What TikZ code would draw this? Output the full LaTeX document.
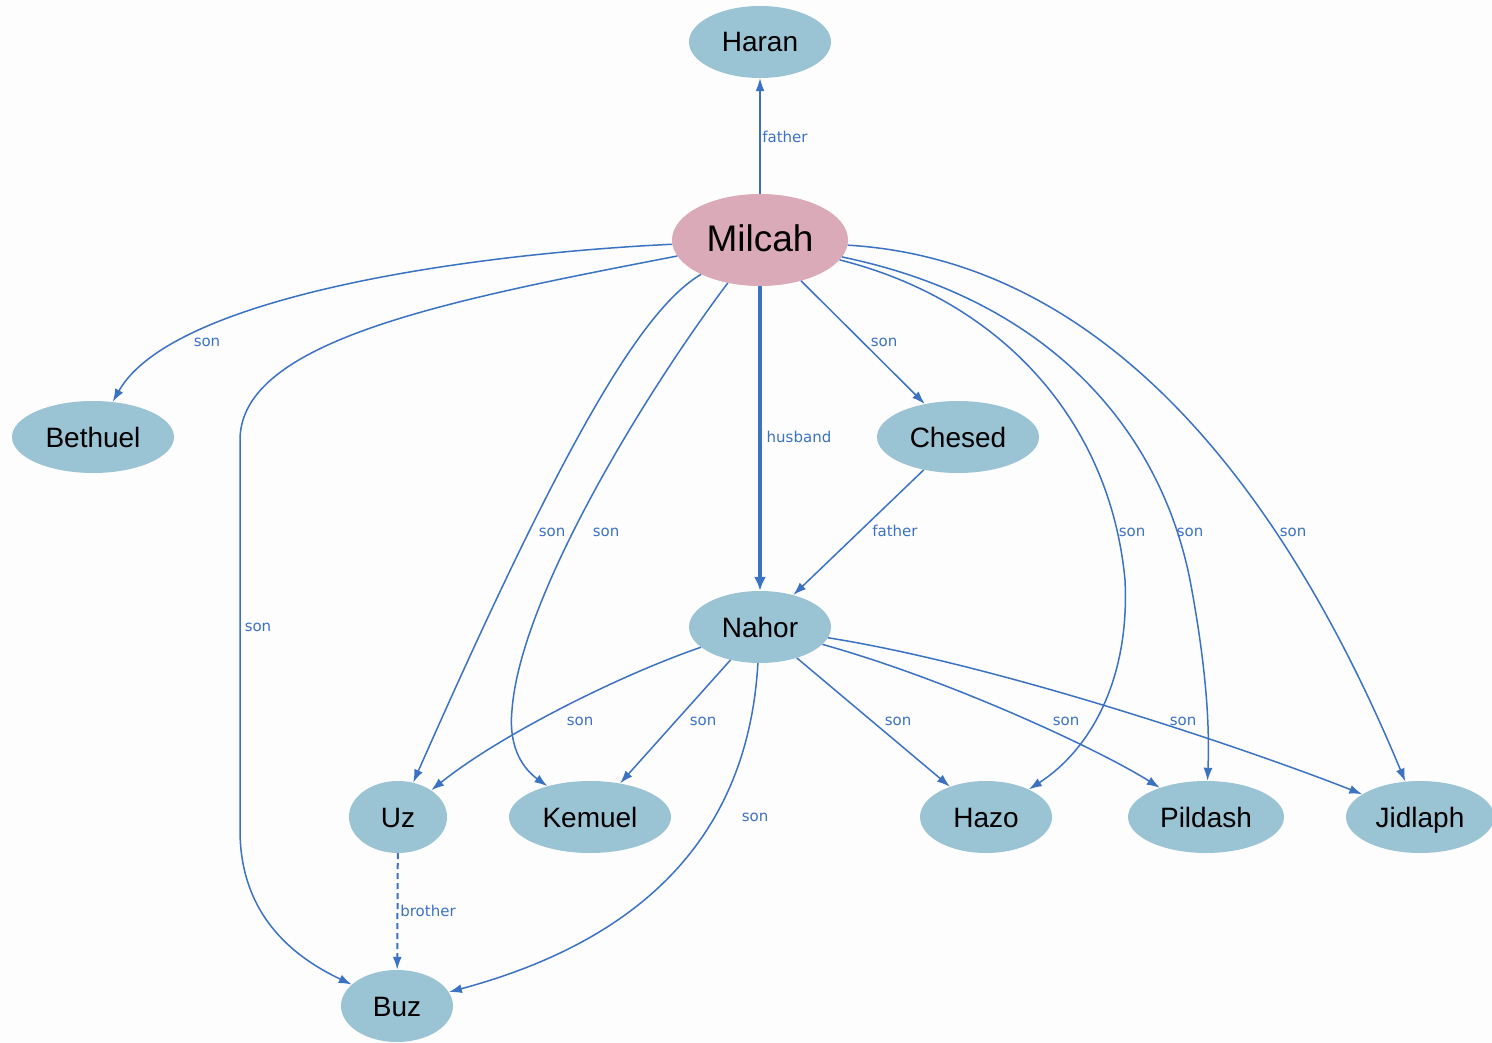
\documentclass[tikz,border=0pt]{standalone}
\usepackage{fontspec}
\setmainfont{Liberation Sans}
\newfontfamily\lblfont{DejaVu Sans}
\usepackage{tikz}
\usetikzlibrary{shapes.geometric,arrows.meta}
\definecolor{nodeblue}{RGB}{154,195,212}
\definecolor{milcahpink}{RGB}{219,170,184}
\definecolor{edgeblue}{RGB}{60,114,194}
\definecolor{paper}{RGB}{253,253,253}

\begin{document}
\begin{tikzpicture}[
    x=1pt,y=-1pt,
    person/.style={ellipse, fill=nodeblue, inner sep=0pt, minimum height=72pt, text height=24pt, text depth=4pt, font=\fontsize{28}{30}\selectfont},
    rel/.style={draw=edgeblue, line width=1.5pt, -{Latex[length=13pt,width=9pt]}},
    lbl/.style={text=edgeblue, inner sep=0pt, font=\lblfont\fontsize{15}{17}\selectfont}
    ]
    \fill[paper] (0,0) rectangle (1492,1043);
    \useasboundingbox (0,0) rectangle (1492,1043);

    \node[person, minimum width=142pt] (haran) at (760,42) {Haran};
    \node[person, fill=milcahpink, minimum width=176pt, minimum height=92pt, text height=30pt, text depth=6pt, font=\fontsize{37}{40}\selectfont] (milcah) at (760,240) {Milcah};
    \node[person, minimum width=162pt] (bethuel) at (93,437) {Bethuel};
    \node[person, minimum width=162pt] (chesed) at (958,437) {Chesed};
    \node[person, minimum width=142pt] (nahor) at (760,627) {Nahor};
    \node[person, minimum width=98pt] (uz) at (398,817) {Uz};
    \node[person, minimum width=162pt] (kemuel) at (590,817) {Kemuel};
    \node[person, minimum width=132pt] (hazo) at (986,817) {Hazo};
    \node[person, minimum width=156pt] (pildash) at (1206,817) {Pildash};
    \node[person, minimum width=148pt] (jidlaph) at (1420,817) {Jidlaph};
    \node[person, minimum width=112pt] (buz) at (397,1006) {Buz};

    % Milcah
    \draw[rel] (milcah) -- (haran);
    \draw[rel] (milcah) .. controls (450,255) and (170,300) .. (bethuel);
    \draw[rel] (milcah) .. controls (450,300) and (240,340) .. (240,440) -- (240,830) .. controls (240,920) and (300,960) .. (buz);
    \draw[rel] (milcah) .. controls (640,310) and (560,450) .. (uz);
    \draw[rel] (milcah) .. controls (640,400) and (520,600) .. (512,710) .. controls (508,750) and (525,770) .. (kemuel);
    \draw[rel, line width=4pt, -{Latex[length=14pt,width=12pt]}] (milcah) -- (nahor);
    \draw[rel] (milcah) -- (chesed);
    \draw[rel] (milcah) .. controls (1000,300) and (1110,420) .. (1125,580) .. controls (1130,680) and (1090,750) .. (hazo);
    \draw[rel] (milcah) .. controls (1050,300) and (1160,430) .. (1190,580) .. controls (1205,660) and (1210,720) .. (pildash);
    \draw[rel] (milcah) .. controls (1100,260) and (1280,480) .. (jidlaph);
    \draw[rel] (chesed) -- (nahor);

    % Nahor
    \draw[rel] (nahor) .. controls (620,675) and (500,735) .. (uz);
    \draw[rel] (nahor) -- (kemuel);
    \draw[rel] (nahor) .. controls (750,800) and (680,930) .. (buz);
    \draw[rel] (nahor) -- (hazo);
    \draw[rel] (nahor) .. controls (950,680) and (1100,750) .. (pildash);
    \draw[rel] (nahor) .. controls (1000,665) and (1250,750) .. (jidlaph);
    \draw[rel, line width=2pt, dash pattern=on 6pt off 4pt] (uz) -- (buz);

    \node[lbl] at (785,137) {father};
    \node[lbl] at (207,342) {son};
    \node[lbl] at (258,627) {son};
    \node[lbl] at (552,532) {son};
    \node[lbl] at (606,532) {son};
    \node[lbl] at (799,437) {husband};
    \node[lbl] at (884,342) {son};
    \node[lbl] at (895,531) {father};
    \node[lbl] at (1132,532) {son};
    \node[lbl] at (1190,532) {son};
    \node[lbl] at (1293,532) {son};
    \node[lbl] at (580,721) {son};
    \node[lbl] at (703,721) {son};
    \node[lbl] at (755,817) {son};
    \node[lbl] at (898,721) {son};
    \node[lbl] at (1066,721) {son};
    \node[lbl] at (1183,721) {son};
    \node[lbl] at (428,911) {brother};
\end{tikzpicture}
\end{document}
